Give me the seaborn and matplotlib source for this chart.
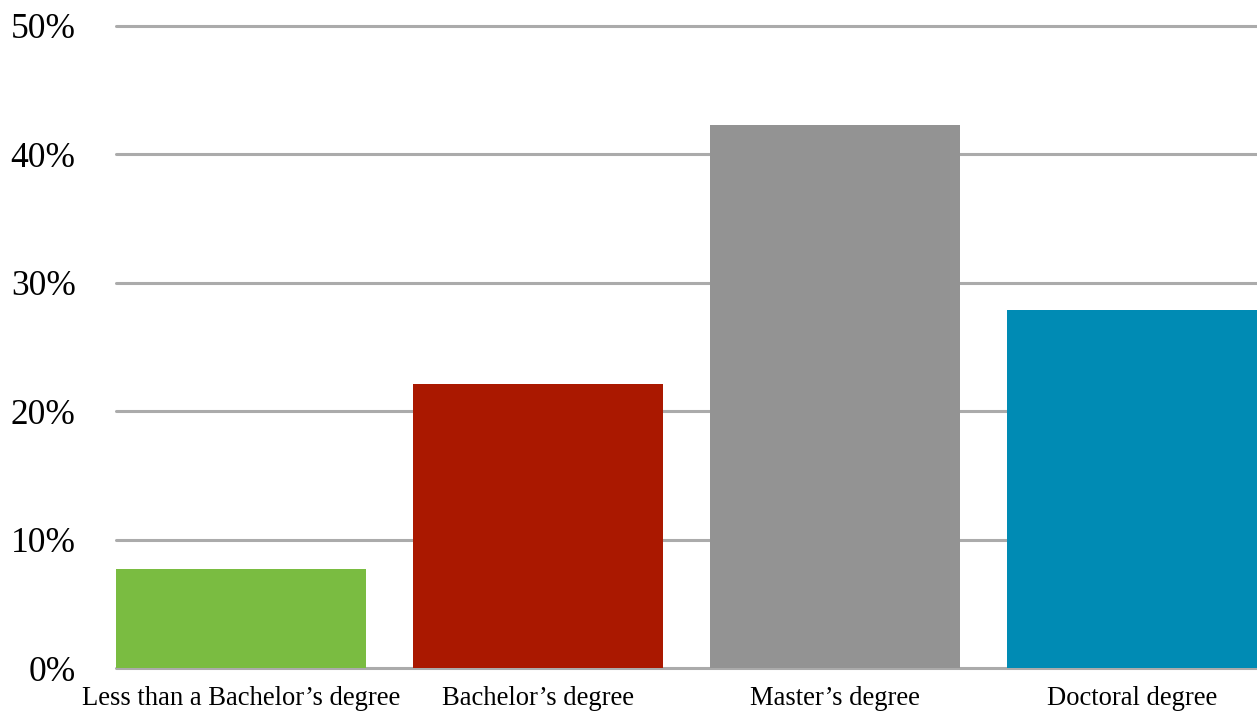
import matplotlib
matplotlib.use("Agg")
import matplotlib.pyplot as plt
import seaborn as sns
import pandas as pd
from matplotlib.ticker import FuncFormatter

categories = ["Less than a Bachelor\u2019s degree", "Bachelor\u2019s degree",
              "Master\u2019s degree", "Doctoral degree"]
values = [7.7, 22.1, 42.3, 27.9]
colors = ["#7ABC41", "#AA1800", "#939393", "#008BB4"]
yticks = [0, 10, 20, 30, 40, 50]

df = pd.DataFrame({"category": categories, "value": values})

sns.set_theme(style="white")
plt.rcParams["font.family"] = ["Liberation Serif", "DejaVu Serif"]

fig = plt.figure(figsize=(12.57, 7.11), dpi=100)
ax = fig.add_axes([116 / 1257, (711 - 668.3) / 711, 1 - 116 / 1257, (668.3 - 25.8) / 711])

sns.barplot(data=df, x="category", y="value", hue="category", palette=colors,
            legend=False, width=0.84, saturation=1, ax=ax, zorder=3, linewidth=0)

ax.set_xlim(-0.42, 3.42)
ax.set_ylim(0, 50)
ax.set_yticks(yticks)
ax.yaxis.set_major_formatter(FuncFormatter(lambda v, p: f"{int(v)}%"))
ax.grid(axis="y", color="#ababab", linewidth=2.2, zorder=0)
ax.grid(axis="x", visible=False)
ax.set_axisbelow(True)
for gl in ax.get_ygridlines():
    gl.set_clip_on(False)
for s in ax.spines.values():
    s.set_visible(False)
ax.set_xlabel("")
ax.set_ylabel("")
ax.tick_params(axis="y", length=0, pad=29, labelsize=25.5, colors="black")
ax.tick_params(axis="x", length=0, pad=13, labelsize=19.2, colors="black")

fig.savefig("out.png", dpi=100)
